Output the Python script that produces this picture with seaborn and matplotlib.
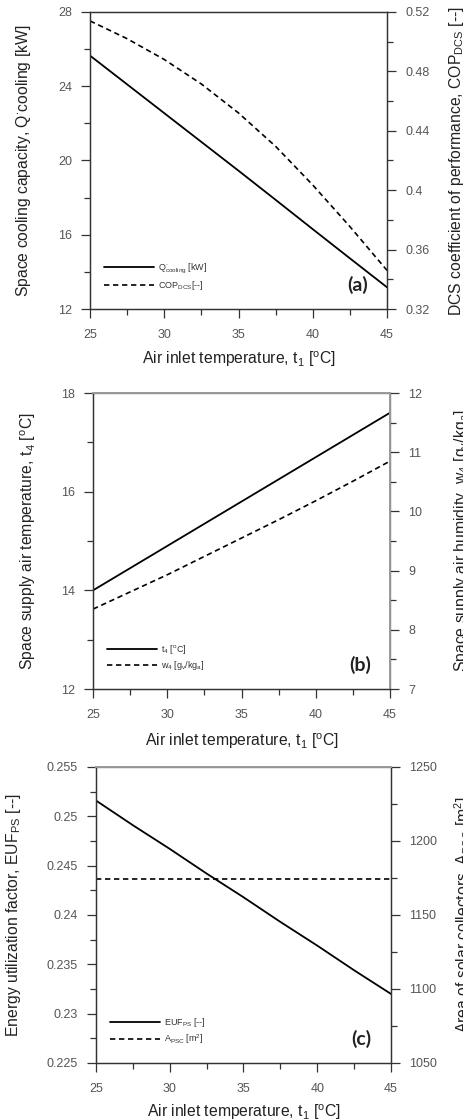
import numpy as np
import pandas as pd
import matplotlib
matplotlib.use('Agg')
import matplotlib.pyplot as plt
import seaborn as sns
from matplotlib.ticker import MultipleLocator, FuncFormatter

# Dados
t1 = [25, 27.5, 30, 32.5, 35, 37.5, 40, 42.5, 45]
q_cooling = [25.65, 24.1, 22.55, 21.0, 19.45, 17.88, 16.3, 14.73, 13.17]
cop_dcs = [0.514, 0.502, 0.488, 0.4715, 0.452, 0.4295, 0.4035, 0.3755, 0.346]
t4 = [14.0, 14.45, 14.9, 15.35, 15.8, 16.25, 16.7, 17.15, 17.6]
w4 = [8.35, 8.64, 8.93, 9.24, 9.55, 9.86, 10.18, 10.51, 10.85]
euf_ps = [0.2516, 0.2491, 0.2467, 0.2442, 0.2418, 0.2393, 0.2369, 0.2344, 0.2320]
a_psc = [1174, 1174, 1174, 1174, 1174, 1174, 1174, 1174, 1174]

sns.set_theme(style='ticks')
plt.rcParams['font.family'] = ['Liberation Sans', 'DejaVu Sans']
plt.rcParams['mathtext.default'] = 'regular'

fig = plt.figure(figsize=(4.63, 11.2), dpi=100)

xlabel = r'Air inlet temperature, t$_1$ [$^o$C]'
fmt = FuncFormatter(lambda v, p: '%g' % round(v, 4))

paineis = [
    dict(rect=[0.1944, 0.7241, 0.6415, 0.2652], y1=q_cooling, y2=cop_dcs,
         lim1=(12, 28), lim2=(0.32, 0.52), maj1=4, min1=2, maj2=0.04, min2=0.02,
         ylab1=r'Space cooling capacity, Q$^{\bullet}$cooling [kW]',
         ylab2=r'DCS coefficient of performance, COP$_{DCS}$ [--]',
         leg1=r'Q$^{\bullet}_{cooling}$ [kW]', leg2=r'COP$_{DCS}$[--]',
         tag='(a)', ylx1=-0.192, ylx2=1.202, xly=-0.135, gray=False),
    dict(rect=[0.2009, 0.3848, 0.6415, 0.2643], y1=t4, y2=w4,
         lim1=(12, 18), lim2=(7, 12), maj1=2, min1=1, maj2=1, min2=0.5,
         ylab1=r'Space supply air temperature, t$_4$ [$^o$C]',
         ylab2=r'Space supply air humidity, w$_4$ [g$_v$/kg$_a$]',
         leg1=r't$_4$ [$^o$C]', leg2=r'w$_4$ [g$_v$/kg$_a$]',
         tag='(b)', ylx1=-0.185, ylx2=1.209, xly=-0.142, gray=True),
    dict(rect=[0.2073, 0.0509, 0.6371, 0.2643], y1=euf_ps, y2=a_psc,
         lim1=(0.225, 0.255), lim2=(1050, 1250), maj1=0.005, min1=0.0025, maj2=50, min2=25,
         ylab1=r'Energy utilization factor, EUF$_{PS}$ [--]',
         ylab2=r'Area of solar collectors, A$_{PSC}$ [m$^2$]',
         leg1=r'EUF$_{PS}$ [--]', leg2=r'A$_{PSC}$ [m$^2$]',
         tag='(c)', ylx1=-0.247, ylx2=1.207, xly=-0.132, gray=True),
]

for p in paineis:
    ax = fig.add_axes(p['rect'])
    ax2 = ax.twinx()
    df = pd.DataFrame({'t1': t1, 'y1': p['y1'], 'y2': p['y2']})
    sns.lineplot(data=df, x='t1', y='y1', ax=ax, color='black', lw=1.3, label=p['leg1'], legend=False)
    sns.lineplot(data=df, x='t1', y='y2', ax=ax2, color='black', lw=1.2, label=p['leg2'],
                 linestyle=(0, (3.2, 2.2)), legend=False)

    ax.set_xlim(25, 45)
    ax.set_ylim(*p['lim1'])
    ax2.set_ylim(*p['lim2'])
    ax.xaxis.set_major_locator(MultipleLocator(5))
    ax.xaxis.set_minor_locator(MultipleLocator(2.5))
    ax.yaxis.set_major_locator(MultipleLocator(p['maj1']))
    ax.yaxis.set_minor_locator(MultipleLocator(p['min1']))
    ax2.yaxis.set_major_locator(MultipleLocator(p['maj2']))
    ax2.yaxis.set_minor_locator(MultipleLocator(p['min2']))
    ax.yaxis.set_major_formatter(fmt)
    ax2.yaxis.set_major_formatter(fmt)

    for a in (ax, ax2):
        a.tick_params(which='major', direction='out', length=6.5, width=0.9, color='#333333',
                      labelsize=9, labelcolor='#555555', pad=6.5)
        a.tick_params(which='minor', direction='out', length=4, width=0.9, color='#333333')
        for s in a.spines.values():
            s.set_color('#333333')
            s.set_linewidth(0.9)
    ax.tick_params(axis='x', pad=8)
    if p['gray']:
        ax2.spines['top'].set_color('#999999')
        ax2.spines['top'].set_linewidth(1.4)
        if p['tag'] == '(b)':
            ax2.spines['right'].set_color('#999999')
            ax2.spines['right'].set_linewidth(1.4)

    ax.set_xlabel(xlabel, fontsize=11.3, color='#222222')
    ax.set_ylabel(p['ylab1'], fontsize=11.3, color='#222222')
    ax2.set_ylabel(p['ylab2'], fontsize=11.3, color='#222222')
    ax.xaxis.set_label_coords(0.5, p['xly'])
    ax.yaxis.set_label_coords(p['ylx1'], 0.5)
    ax2.yaxis.set_label_coords(p['ylx2'], 0.5)

    h1, l1 = ax.get_legend_handles_labels()
    h2, l2 = ax2.get_legend_handles_labels()
    ax2.legend(h1 + h2, l1 + l2, loc='lower left', bbox_to_anchor=(0.02, 0.03), frameon=False,
               fontsize=6.5, handlelength=5.5, handletextpad=0.5, labelspacing=0.35,
               labelcolor='#333333')
    ax2.text(0.90, 0.08, p['tag'], transform=ax2.transAxes, fontsize=14, fontweight='bold',
             family='Lato', ha='center', va='center', color='#222222')

fig.savefig('out.png', dpi=100)
